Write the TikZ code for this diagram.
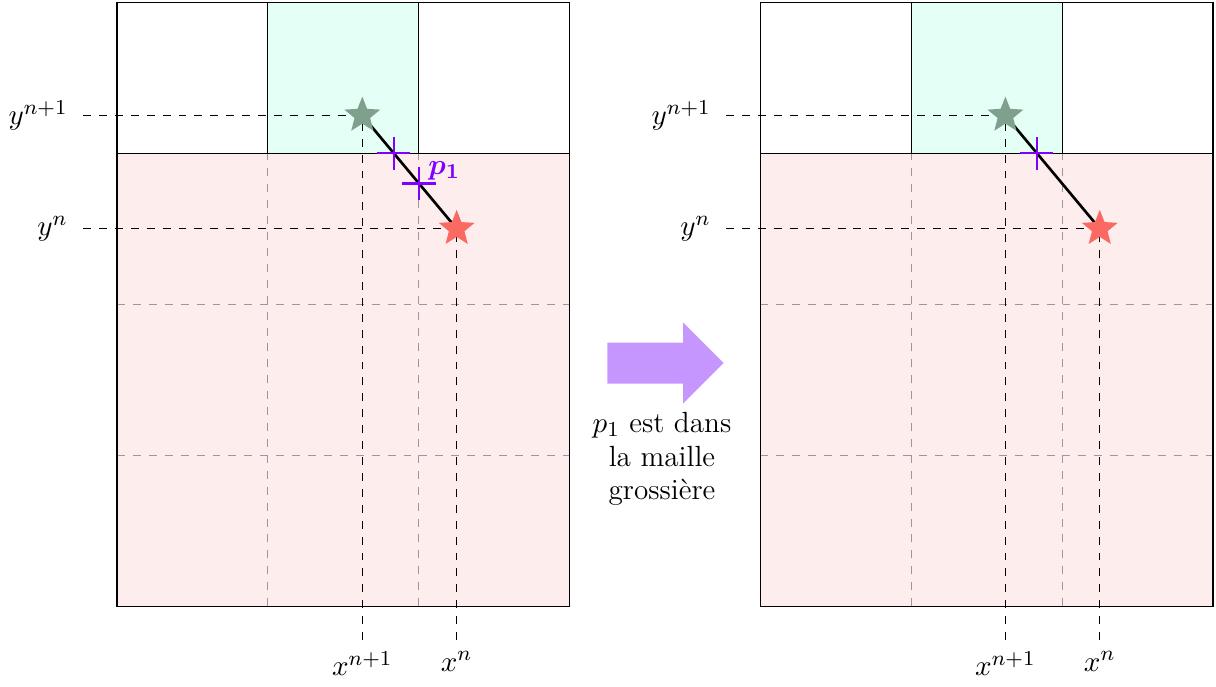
\documentclass[tikz,border=0pt]{standalone}
\usepackage{amsmath}
\usetikzlibrary{positioning,calc,shapes.geometric,shapes.arrows}
\definecolor{finegreen}{RGB}{228,255,245}
\definecolor{coarsepink}{RGB}{253,237,237}
\definecolor{oldgreen}{RGB}{128,160,142}
\definecolor{newred}{RGB}{250,105,98}
\definecolor{crossviolet}{RGB}{127,0,255}
\definecolor{arrowviolet}{RGB}{197,150,253}

\tikzset{
  gridline/.style={dashed, gray!80},
  guide/.style={dashed},
  starmark/.style={star, star points=5, star point ratio=2.3, inner sep=0pt, minimum size=0.5cm},
  pcross/.style={crossviolet, line width=0.9pt},
}

\begin{document}
\begin{tikzpicture}[every node/.style={font=\fontsize{11}{12.6}\selectfont}]
  \useasboundingbox (-1.55,-1.07) rectangle (14.56,8.03);

  % left panel: before the check
  \fill[coarsepink] (0,0) rectangle (6,6);
  \fill[finegreen] (2,6) rectangle (4,8);
  \draw[gridline] (2,0) -- (2,6) (4,0) -- (4,6) (0,2) -- (6,2) (0,4) -- (6,4);
  \draw (0,0) rectangle (6,8) (0,6) -- (6,6) (2,6) -- (2,8) (4,6) -- (4,8);
  \coordinate (old) at (3.25,6.5);
  \coordinate (new) at (4.5,5);
  \node[left=0.08cm] (ynp) at (-0.45,6.5) {$y^{n+1}$};
  \node[left=0.08cm] (yn) at (-0.45,5) {$y^{n}$};
  \node[below=0.03cm] (xnp) at (3.25,-0.45) {$x^{n+1}$};
  \node[below=0.03cm] (xn) at (4.5,-0.45) {$x^{n}$};
  \draw[guide] ([xshift=0.08cm]ynp.east) -- (old);
  \draw[guide] ([xshift=0.08cm]yn.east) -- (new);
  \draw[guide] ([yshift=0.03cm]xnp.north) -- (old);
  \draw[guide] ([yshift=0.03cm]xn.north) -- (new);
  \draw[line width=1pt] (old) -- (new);
  \node[starmark, fill=oldgreen] (sold) at (old) {};
  \node[starmark, fill=newred] (snew) at (new) {};
  \coordinate (c1) at ($(old)!1/3!(new)$);
  \coordinate (c2) at ($(old)!0.6!(new)$);
  \draw[pcross] ($(c1)-(0.22,0)$) -- ($(c1)+(0.22,0)$) ($(c1)-(0,0.22)$) -- ($(c1)+(0,0.22)$);
  \draw[pcross] ($(c2)-(0.22,0)$) -- ($(c2)+(0.22,0)$) ($(c2)-(0,0.22)$) -- ($(c2)+(0,0.22)$);
  \node[above right=-0.08cm and 0cm of c2, text=crossviolet] (plab) {$\boldsymbol{p_1}$};

  % big arrow and its caption
  \node[single arrow, fill=arrowviolet, minimum height=1.54cm, inner xsep=0pt, inner ysep=0.265cm,
        single arrow head extend=0.265cm, single arrow tip angle=90, anchor=tail] (shift) at (6.49,3.22) {};
  \node[align=center] (caption) at (7.22,1.95) {$p_1$ est dans\\la maille\\grossière};

  % right panel: after the check
  \begin{scope}[xshift=8.52cm]
    \fill[coarsepink] (0,0) rectangle (6,6);
    \fill[finegreen] (2,6) rectangle (4,8);
    \draw[gridline] (2,0) -- (2,6) (4,0) -- (4,6) (0,2) -- (6,2) (0,4) -- (6,4);
    \draw (0,0) rectangle (6,8) (0,6) -- (6,6) (2,6) -- (2,8) (4,6) -- (4,8);
    \coordinate (oldR) at (3.25,6.5);
    \coordinate (newR) at (4.5,5);
    \node[left=0.08cm] (ynpR) at (-0.45,6.5) {$y^{n+1}$};
    \node[left=0.08cm] (ynR) at (-0.45,5) {$y^{n}$};
    \node[below=0.03cm] (xnpR) at (3.25,-0.45) {$x^{n+1}$};
    \node[below=0.03cm] (xnR) at (4.5,-0.45) {$x^{n}$};
    \draw[guide] ([xshift=0.08cm]ynpR.east) -- (oldR);
    \draw[guide] ([xshift=0.08cm]ynR.east) -- (newR);
    \draw[guide] ([yshift=0.03cm]xnpR.north) -- (oldR);
    \draw[guide] ([yshift=0.03cm]xnR.north) -- (newR);
    \draw[line width=1pt] (oldR) -- (newR);
    \node[starmark, fill=oldgreen] (soldR) at (oldR) {};
    \node[starmark, fill=newred] (snewR) at (newR) {};
    \coordinate (c1R) at ($(oldR)!1/3!(newR)$);
    \draw[pcross] ($(c1R)-(0.22,0)$) -- ($(c1R)+(0.22,0)$) ($(c1R)-(0,0.22)$) -- ($(c1R)+(0,0.22)$);
  \end{scope}
\end{tikzpicture}
\end{document}
